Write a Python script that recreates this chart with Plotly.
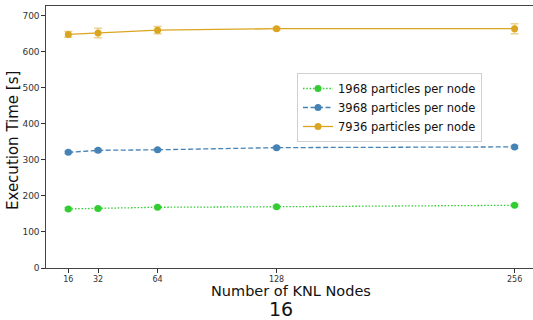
import plotly.graph_objects as go

nodes = [16, 32, 64, 128, 256]
t_1968 = [164, 165, 168.5, 170, 174]
e_1968 = [3, 3, 3, 3, 3]
t_3968 = [321, 326.5, 328, 334, 336]
e_3968 = [3, 4, 3, 3, 4]
t_7936 = [648, 652, 660, 664, 664]
e_7936 = [8, 13, 10, 4, 14]
labels = ["1968 particles per node", "3968 particles per node", "7936 particles per node"]
tick_vals = [16, 32, 64, 128, 256]
y_ticks = [0, 100, 200, 300, 400, 500, 600, 700]

series = [
    (t_1968, e_1968, labels[0], "#33cc33", "1.5px,1.8px", "rgba(51,204,51,0.5)"),
    (t_3968, e_3968, labels[1], "#4682b4", "5px,2.5px", "rgba(70,130,180,0.5)"),
    (t_7936, e_7936, labels[2], "#daa520", "solid", "rgba(218,165,32,0.5)"),
]

fig = go.Figure()
for y, e, name, col, dash, ecol in series:
    fig.add_trace(go.Scatter(
        x=nodes, y=y, name=name, mode="lines+markers",
        line=dict(color=col, dash=dash, width=1.3),
        marker=dict(color=col, size=7),
        error_y=dict(type="data", array=e, visible=True, color=ecol, thickness=1.5, width=4),
    ))

font = "DejaVu Sans"
L, T, B = 46, 6, 52
PW = 533 - L
PH = 320 - T - B
fig.update_layout(
    width=533, height=320,
    margin=dict(l=L, r=0, t=T, b=B, autoexpand=False),
    paper_bgcolor="white", plot_bgcolor="white",
    font=dict(family=font, color="#222"),
    showlegend=True,
    legend=dict(x=(297 - L) / PW, y=(268 - 73) / PH, xanchor="left", yanchor="top",
                bordercolor="#d0d0d0", borderwidth=1, bgcolor="rgba(255,255,255,0.8)",
                font=dict(size=11.5, family=font, color="#111"), tracegroupgap=0,
                itemwidth=30),
    xaxis=dict(range=[4, 265.9], tickmode="array", tickvals=tick_vals,
               ticks="outside", ticklen=3.5, tickcolor="#333", tickfont=dict(size=8, color="#333"),
               showgrid=False, zeroline=False, showline=True, linecolor="#444", linewidth=1.2,
               mirror=True, automargin=False),
    yaxis=dict(range=[0, 727], tickmode="array", tickvals=y_ticks,
               ticks="outside", ticklen=3.5, tickcolor="#333", tickfont=dict(size=9, color="#333"),
               showgrid=False, zeroline=False, showline=True, linecolor="#444", linewidth=1.2,
               automargin=False),
    annotations=[
        dict(text="Number of KNL Nodes", x=(291 - L) / PW, y=(268 - 291) / PH, xref="paper", yref="paper",
             xanchor="center", yanchor="middle", showarrow=False, font=dict(size=14.5, family=font, color="#111")),
        dict(text="16", x=(281 - L) / PW, y=(268 - 309) / PH, xref="paper", yref="paper",
             xanchor="center", yanchor="middle", showarrow=False, font=dict(size=19, family=font, color="#111")),
        dict(text="Execution Time [s]", x=(13 - L) / PW, y=(268 - 141) / PH, xref="paper", yref="paper", textangle=-90,
             xanchor="center", yanchor="middle", showarrow=False, font=dict(size=15, family=font, color="#111")),
    ],
)

fig.write_html("out.html", config={"displayModeBar": False},
               post_script="document.body.style.margin='0';")
